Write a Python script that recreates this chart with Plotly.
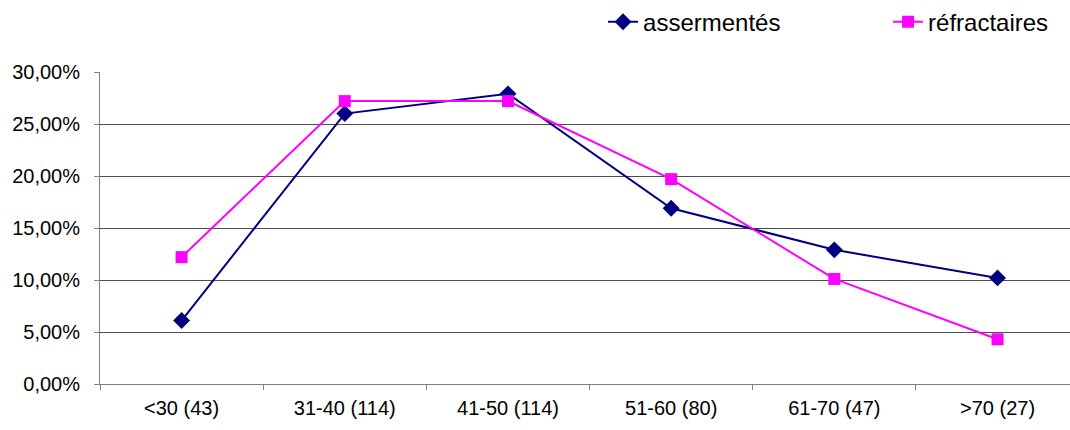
import plotly.graph_objects as go

# Age groups (number of priests in each group)
categories = ["<30 (43)", "31-40 (114)", "41-50 (114)", "51-60 (80)", "61-70 (47)", ">70 (27)"]

# Share of each age group, in percent
assermentes = [6.1, 26.0, 27.9, 16.9, 12.9, 10.2]
refractaires = [12.2, 27.2, 27.2, 19.7, 10.1, 4.3]

y_ticks = [0, 0.05, 0.10, 0.15, 0.20, 0.25, 0.30]

FONT = "Liberation Sans, Arial, sans-serif"

fig = go.Figure()
fig.add_trace(go.Scatter(
    x=categories, y=[v / 100 for v in assermentes], name="assermentés",
    mode="lines+markers",
    line=dict(color="#000080", width=2),
    marker=dict(symbol="diamond", size=13, color="#000080"),
))
fig.add_trace(go.Scatter(
    x=categories, y=[v / 100 for v in refractaires], name="réfractaires",
    mode="lines+markers",
    line=dict(color="#FF00FF", width=2),
    marker=dict(symbol="square", size=12, color="#FF00FF"),
))

fig.update_layout(
    width=1070, height=430,
    margin=dict(l=100, r=0, t=72, b=46, autoexpand=False),
    paper_bgcolor="white", plot_bgcolor="white",
    separators=", ",
    font=dict(family=FONT, size=20, color="black"),
    showlegend=True,
    legend=dict(
        orientation="h", x=0.5186, xanchor="left", y=1.16, yanchor="middle",
        font=dict(family=FONT, size=24, color="black"),
        entrywidth=240, entrywidthmode="pixels",
        bgcolor="rgba(0,0,0,0)", traceorder="normal",
    ),
    xaxis=dict(
        type="category", range=[-0.5, 5.444],
        showgrid=False, showline=True, linecolor="#808080", linewidth=1,
        ticks="outside", tickson="boundaries", ticklen=5, tickcolor="#808080",
        tickfont=dict(family=FONT, size=20), ticklabelstandoff=6,
        zeroline=False,
    ),
    yaxis=dict(
        range=[0, 0.30], tickvals=y_ticks, tickformat=".2%",
        showgrid=True, gridcolor="#4d4d4d", gridwidth=1,
        showline=True, linecolor="#808080", linewidth=1,
        ticks="outside", ticklen=5, tickcolor="#808080",
        tickfont=dict(family=FONT, size=20), ticklabelstandoff=10,
        zeroline=False,
    ),
)

fig.write_html("out.html")
